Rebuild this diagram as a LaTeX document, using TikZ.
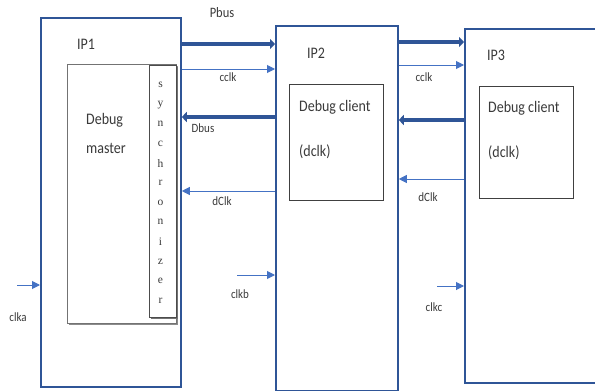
\documentclass[tikz,border=0pt]{standalone}
\usepackage{fontspec}
\setmainfont{Carlito}
\newfontfamily\serifletters{Liberation Serif}
\usetikzlibrary{arrows.meta}
\definecolor{ipblue}{HTML}{2F5597}
\definecolor{sigblue}{HTML}{4472C4}
\definecolor{txt}{HTML}{3A3A3A}
\newcommand{\tallish}[1]{\scalebox{1}[1.15]{#1}}
\tikzset{
  ipbox/.style={draw=ipblue, line width=1.8pt, anchor=north west, inner sep=0pt},
  innerbox/.style={draw=black!75, line width=0.7pt, anchor=north west, inner sep=0pt, fill=white},
  busline/.style={draw=ipblue, line width=4.5pt, -{Triangle[length=5pt,width=10pt]}},
  sigline/.style={draw=sigblue, line width=1pt, -{Triangle[length=8pt,width=8pt]}},
  lbl/.style={text=txt, font=\fontsize{11}{12}\selectfont, inner sep=0pt},
  title/.style={text=txt, font=\fontsize{14}{16}\selectfont, inner sep=0pt, anchor=west},
  body/.style={text=txt, font=\fontsize{14}{16}\selectfont, inner sep=0pt, anchor=west},
}
\begin{document}
\begin{tikzpicture}[x=1pt, y=-1pt]
  \useasboundingbox (0,0) rectangle (595,391);
  \clip (0,0) rectangle (595,391);

  % IP blocks
  \node[ipbox, minimum width=140pt, minimum height=369pt] (ip1) at (40,17) {};
  \node[ipbox, minimum width=122pt, minimum height=365pt] (ip2) at (275,25) {};
  \node[ipbox, minimum width=160pt, minimum height=354pt] (ip3) at (464,28) {};

  % debug master with its shadow and the synchronizer strip
  \fill[black!45] (69,66) rectangle (178,325);
  \node[innerbox, draw=black!55, minimum width=109pt, minimum height=259pt] (master) at (67,64) {};
  \fill[black!55] (151,67) rectangle (178,319);
  \node[innerbox, draw=black!70, minimum width=27pt, minimum height=252pt] (sync) at (149,65) {};

  % debug clients
  \node[innerbox, minimum width=94pt, minimum height=116pt] (cl2) at (289,84) {};
  \node[innerbox, minimum width=94pt, minimum height=112pt] (cl3) at (479,86) {};

  % block titles
  \node[title] (t1) at (77,44) {\tallish{IP1}};
  \node[title] (t2) at (307,53) {\tallish{IP2}};
  \node[title] (t3) at (487,55) {\tallish{IP3}};

  % block contents
  \node[body] (dm1) at (86,120) {\tallish{Debug}};
  \node[body] (dm2) at (86,148) {\tallish{master}};
  \node[body] (dc2a) at (299,107) {\tallish{Debug client}};
  \node[body] (dc2b) at (299,152) {\tallish{(dclk)}};
  \node[body] (dc3a) at (488,108) {\tallish{Debug client}};
  \node[body] (dc3b) at (488,153) {\tallish{(dclk)}};

  % synchronizer lettering
  \foreach \ch [count=\i from 0] in {s,y,n,c,h,r,o,n,i,z,e,r}
    \node[text=txt, font=\serifletters\fontsize{11.5}{12}\selectfont, inner sep=0pt]
      (s\i) at (160.5,{85+19.6*\i}) {\ch};

  % IP1 <-> IP2
  \draw[busline] (ip1.east |- 0,44) -- (ip2.west |- 0,44);
  \draw[sigline] (ip1.east |- 0,69) -- (ip2.west |- 0,69);
  \draw[busline] (ip2.west |- 0,117) -- (ip1.east |- 0,117);
  \draw[sigline] (ip2.west |- 0,191) -- (ip1.east |- 0,191);
  \node[lbl, font=\fontsize{12.5}{14}\selectfont] (pbus) at (222,13) {\tallish{Pbus}};
  \node[lbl] (cclk1) at (228,77) {\tallish{cclk}};
  \node[lbl] (dbus) at (203,128) {\tallish{Dbus}};
  \node[lbl] (dclk1) at (222,201) {\tallish{dClk}};

  % IP2 <-> IP3
  \draw[busline] (ip2.east |- 0,42) -- (ip3.west |- 0,42);
  \draw[sigline] (ip2.east |- 0,65) -- (ip3.west |- 0,65);
  \draw[busline] (ip3.west |- 0,120) -- (ip2.east |- 0,120);
  \draw[sigline] (ip3.west |- 0,179) -- (ip2.east |- 0,179);
  \node[lbl] (cclk2) at (424,77) {\tallish{cclk}};
  \node[lbl] (dclk2) at (428,197) {\tallish{dClk}};

  % clock inputs
  \coordinate (ca) at (17,285);
  \coordinate (cb) at (237,275);
  \coordinate (cc) at (437,286);
  \draw[sigline] (ca) -- (ip1.west |- ca);
  \draw[sigline] (cb) -- (ip2.west |- cb);
  \draw[sigline] (cc) -- (ip3.west |- cc);
  \node[lbl] (clka) at (18,317) {\tallish{clka}};
  \node[lbl] (clkb) at (240,294) {\tallish{clkb}};
  \node[lbl] (clkc) at (434,307) {\tallish{clkc}};
\end{tikzpicture}
\end{document}
